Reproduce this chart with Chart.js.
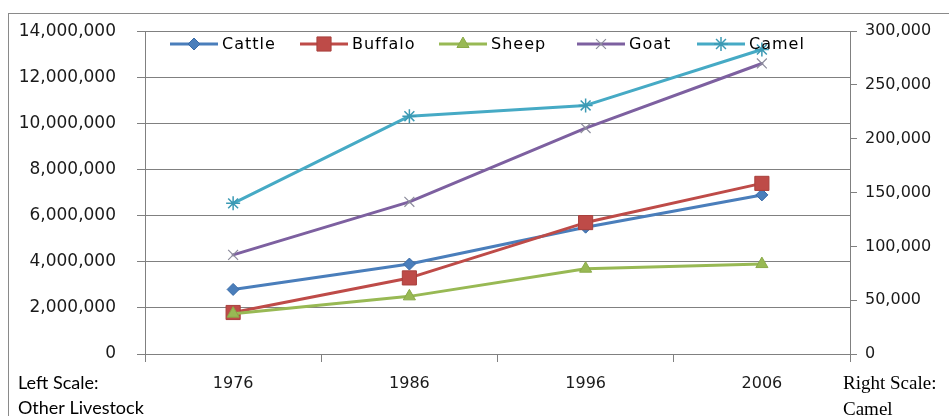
<!DOCTYPE html>
<html>
<head>
<meta charset="utf-8">
<script src="https://cdn.jsdelivr.net/npm/chart.js@4.4.0/dist/chart.umd.min.js"></script>
<style>
  html, body { margin: 0; padding: 0; background: #ffffff; }
  #wrap { width: 949px; height: 416px; position: relative; }
</style>
</head>
<body>
<div id="wrap"><canvas id="c" width="949" height="416"></canvas></div>
<script>
// ---- data ----
const categories = ['1976', '1986', '1996', '2006'];
const seriesNames = ['Cattle', 'Buffalo', 'Sheep', 'Goat', 'Camel'];
const cattle  = [2800000, 3900000, 5500000, 6900000];
const buffalo = [1800000, 3300000, 5700000, 7400000];
const sheep   = [1750000, 2500000, 3700000, 3900000];
const goat    = [4300000, 6600000, 9800000, 12600000];
const camel   = [140000, 221000, 231000, 283000];
const leftTicks  = [0, 2000000, 4000000, 6000000, 8000000, 10000000, 12000000, 14000000];
const rightTicks = [0, 50000, 100000, 150000, 200000, 250000, 300000];
const noteLeft  = ['Left Scale:', 'Other Livestock'];
const noteRight = ['Right Scale:', 'Camel'];

const colors = ['#4A7EBB', '#BE4B48', '#98B954', '#7D60A0', '#46AAC5'];
const styles = [
  { pointStyle: 'rectRot',  radius: 6,  bw: 1 },
  { pointStyle: 'rect',     radius: 10, bw: 1 },
  { pointStyle: 'triangle', radius: 7,  bw: 1 },
  { pointStyle: 'crossRot', radius: 7,  bw: 1.2 },
  { pointStyle: 'star',     radius: 7,  bw: 1.5 }
];
const allData = [cattle, buffalo, sheep, goat, camel];
const axisFor = ['yL', 'yL', 'yL', 'yL', 'yR'];
const markerBorder = ['#3A6CA8', '#A8403D', '#8AAA48', '#8C8C9C', '#3C9AB4'];

const fmt = v => Number(v).toLocaleString('en-US');
const gridColor = '#808080';

const datasets = seriesNames.map((name, i) => ({
  label: name,
  data: allData[i],
  yAxisID: axisFor[i],
  borderColor: colors[i],
  backgroundColor: colors[i],
  borderWidth: 3,
  tension: 0,
  pointStyle: styles[i].pointStyle,
  pointRadius: styles[i].radius,
  pointBorderWidth: styles[i].bw,
  pointBackgroundColor: colors[i],
  pointBorderColor: markerBorder[i],
  order: seriesNames.length - 1 - i
}));

const legendPos = [170, 300, 439, 577, 697];

const decorPlugin = {
  id: 'decor',
  beforeDraw(chart) {
    const ctx = chart.ctx;
    ctx.save();
    ctx.fillStyle = '#ffffff';
    ctx.fillRect(0, 0, chart.width, chart.height);
    ctx.strokeStyle = '#8a8a8a';
    ctx.lineWidth = 1;
    ctx.strokeRect(8.5, 13.5, 1200, 1200);
    ctx.restore();
  },
  afterDatasetsDraw(chart) {
    const ctx = chart.ctx;
    ctx.save();
    const y = 44;
    ctx.font = '16px "DejaVu Sans"';
    try { ctx.letterSpacing = '1px'; } catch (e) {}
    ctx.textBaseline = 'middle';
    ctx.textAlign = 'left';
    chart.data.datasets.forEach((ds, i) => {
      const x = legendPos[i];
      ctx.strokeStyle = ds.borderColor;
      ctx.lineWidth = 3;
      ctx.beginPath();
      ctx.moveTo(x, y);
      ctx.lineTo(x + 48, y);
      ctx.stroke();
      const opts = {
        pointStyle: ds.pointStyle,
        radius: ds.pointRadius,
        borderWidth: ds.pointBorderWidth,
        rotation: 0
      };
      ctx.fillStyle = ds.pointBackgroundColor;
      ctx.strokeStyle = ds.pointBorderColor;
      ctx.lineWidth = ds.pointBorderWidth;
      if (Chart.helpers && Chart.helpers.drawPoint) {
        Chart.helpers.drawPoint(ctx, opts, x + 24, y);
      }
      ctx.fillStyle = '#000000';
      ctx.fillText(ds.label, x + 52, y + 1);
    });
    ctx.restore();
  },
  afterDraw(chart) {
    const ctx = chart.ctx;
    ctx.save();
    ctx.fillStyle = '#000000';
    ctx.textBaseline = 'alphabetic';
    ctx.textAlign = 'left';
    ctx.font = '18px Lato';
    ctx.fillText(noteLeft[0], 18, 389);
    ctx.fillText(noteLeft[1], 18, 414);
    ctx.font = '19px "Liberation Serif"';
    ctx.fillText(noteRight[0], 843, 389);
    ctx.fillText(noteRight[1], 843, 415);
    ctx.restore();
  }
};

new Chart(document.getElementById('c'), {
  type: 'line',
  data: { labels: categories, datasets },
  plugins: [decorPlugin],
  options: {
    responsive: false,
    animation: false,
    devicePixelRatio: 1,
    layout: { padding: { top: 27, left: 0, right: 0, bottom: 0 } },
    plugins: { legend: { display: false }, tooltip: { enabled: false } },
    elements: { line: { borderCapStyle: 'round', borderJoinStyle: 'round' } },
    scales: {
      x: {
        type: 'category',
        offset: true,
        grid: { offset: true, drawOnChartArea: false, drawTicks: true, tickLength: 8, color: gridColor },
        border: { display: true, color: gridColor },
        ticks: { font: { family: 'DejaVu Sans', size: 16 }, color: '#1a1a1a', padding: 12, maxRotation: 0 },
        afterFit(scale) { scale.height = 62; }
      },
      yL: {
        type: 'linear',
        position: 'left',
        min: 0,
        max: 14000000,
        afterBuildTicks(scale) { scale.ticks = leftTicks.map(v => ({ value: v })); },
        grid: { drawOnChartArea: true, drawTicks: true, tickLength: 8, color: gridColor },
        border: { display: true, color: gridColor },
        ticks: { callback: v => fmt(v), font: { family: 'DejaVu Sans', size: 17 }, color: '#1a1a1a', padding: 21 },
        afterFit(scale) { scale.width = 145; }
      },
      yR: {
        type: 'linear',
        position: 'right',
        min: 0,
        max: 300000,
        afterBuildTicks(scale) { scale.ticks = rightTicks.map(v => ({ value: v })); },
        grid: { drawOnChartArea: false, drawTicks: true, tickLength: 7, color: gridColor },
        border: { display: true, color: gridColor },
        ticks: { callback: v => fmt(v), font: { family: 'DejaVu Sans', size: 16 }, color: '#1a1a1a', padding: 8 },
        afterFit(scale) { scale.width = 99; }
      }
    }
  }
});
</script>
</body>
</html>
